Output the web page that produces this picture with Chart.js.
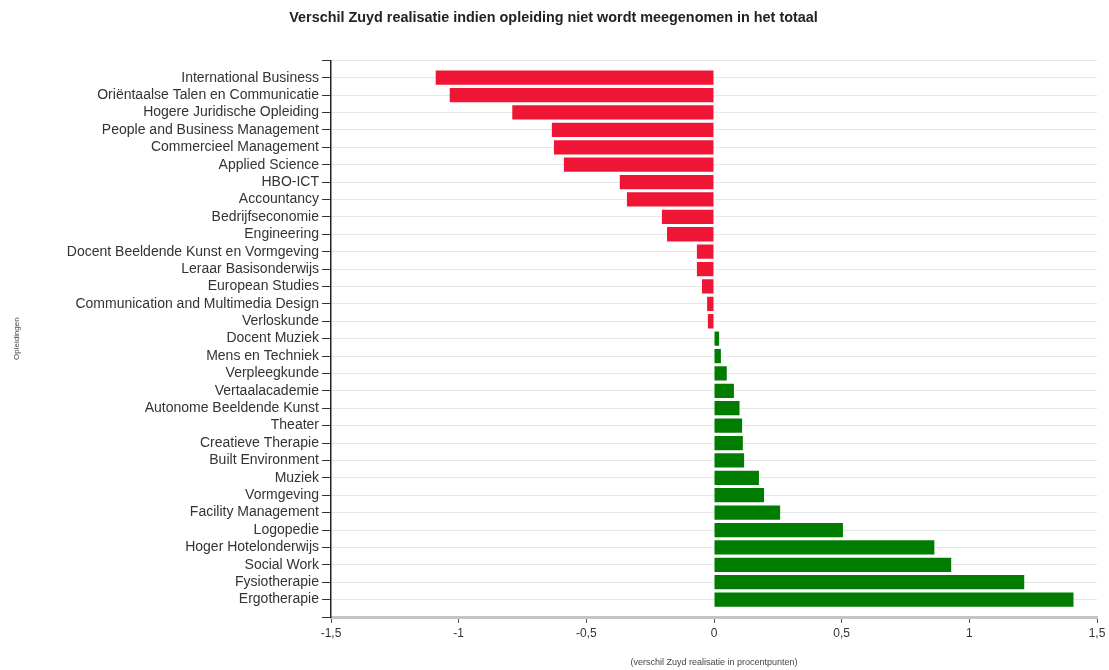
<!DOCTYPE html>
<html>
<head>
<meta charset="utf-8">
<script src="https://cdn.jsdelivr.net/npm/chart.js@4/dist/chart.umd.min.js"></script>
<style>
html,body{margin:0;padding:0;background:#fff;}
#wrap{width:1109px;height:670px;position:relative;}
</style>
</head>
<body>
<div id="wrap"><canvas id="c" width="1109" height="670"></canvas></div>
<script>
const categories = [
  "International Business",
  "Oriëntaalse Talen en Communicatie",
  "Hogere Juridische Opleiding",
  "People and Business Management",
  "Commercieel Management",
  "Applied Science",
  "HBO-ICT",
  "Accountancy",
  "Bedrijfseconomie",
  "Engineering",
  "Docent Beeldende Kunst en Vormgeving",
  "Leraar Basisonderwijs",
  "European Studies",
  "Communication and Multimedia Design",
  "Verloskunde",
  "Docent Muziek",
  "Mens en Techniek",
  "Verpleegkunde",
  "Vertaalacademie",
  "Autonome Beeldende Kunst",
  "Theater",
  "Creatieve Therapie",
  "Built Environment",
  "Muziek",
  "Vormgeving",
  "Facility Management",
  "Logopedie",
  "Hoger Hotelonderwijs",
  "Social Work",
  "Fysiotherapie",
  "Ergotherapie"
];
const values = [
  -1.09, -1.035, -0.79, -0.635, -0.627, -0.588, -0.369, -0.341, -0.204, -0.184,
  -0.067, -0.067, -0.047, -0.027, -0.024,
  0.02, 0.027, 0.05, 0.078, 0.10, 0.11, 0.113, 0.118, 0.176, 0.196, 0.259,
  0.505, 0.863, 0.929, 1.215, 1.408
];
const xTicks = [-1.5, -1, -0.5, 0, 0.5, 1, 1.5];
const titleText = "Verschil Zuyd realisatie indien opleiding niet wordt meegenomen in het totaal";
const xTitle = "(verschil Zuyd realisatie in procentpunten)";
const yTitle = "Opleidingen";

const RED = "#ee1634";
const GREEN = "#007d00";
const FONT = "'Liberation Sans', Arial, sans-serif";

const points = values.map((v, i) => ({ x: v, y: i }));

new Chart(document.getElementById("c"), {
  type: "bar",
  data: {
    datasets: [{
      data: points,
      backgroundColor: values.map(v => v < 0 ? RED : GREEN),
      borderWidth: 0,
      barPercentage: 0.82,
      categoryPercentage: 1.0
    }]
  },
  options: {
    indexAxis: "y",
    responsive: false,
    animation: false,
    devicePixelRatio: 1,
    layout: { padding: { left: 10, right: 12, top: 0, bottom: 0 } },
    plugins: {
      legend: { display: false },
      tooltip: { enabled: false },
      title: {
        display: true,
        text: titleText,
        color: "#222",
        font: { family: FONT, size: 14.4, weight: "bold" },
        padding: { top: 9, bottom: 34 }
      }
    },
    scales: {
      x: {
        type: "linear",
        min: -1.5,
        max: 1.5,
        afterBuildTicks: s => { s.ticks = xTicks.map(v => ({ value: v })); },
        afterFit: s => { s.height = 53; },
        border: { display: true, color: "#c4c4c4", width: 3 },
        grid: { drawOnChartArea: false, drawTicks: true, tickLength: 6, tickColor: "#555" },
        ticks: {
          color: "#333",
          padding: 3,
          font: { family: FONT, size: 12 },
          callback: v => String(v).replace(".", ",")
        },
        title: {
          display: true,
          text: xTitle,
          color: "#444",
          font: { family: FONT, size: 9 },
          padding: { top: 0, bottom: 2 }
        }
      },
      y: {
        type: "linear",
        reverse: true,
        offset: false,
        min: -1,
        max: categories.length,
        afterBuildTicks: s => {
          const t = [];
          for (let i = -1; i <= categories.length; i++) t.push({ value: i });
          s.ticks = t;
        },
        afterFit: s => { s.width = 321; },
        border: { display: true, color: "#222", width: 1.5 },
        grid: { offset: false, color: "#e6e6e6", lineWidth: 1, tickLength: 9, tickColor: "#333" },
        ticks: {
          color: "#333",
          padding: 3,
          autoSkip: false,
          font: { family: FONT, size: 14 },
          callback: v => (v >= 0 && v < categories.length) ? categories[v] : ""
        },
        title: {
          display: true,
          text: yTitle,
          color: "#444",
          font: { family: FONT, size: 8 },
          padding: { top: 2, bottom: 0 }
        }
      }
    }
  }
});
</script>
</body>
</html>
